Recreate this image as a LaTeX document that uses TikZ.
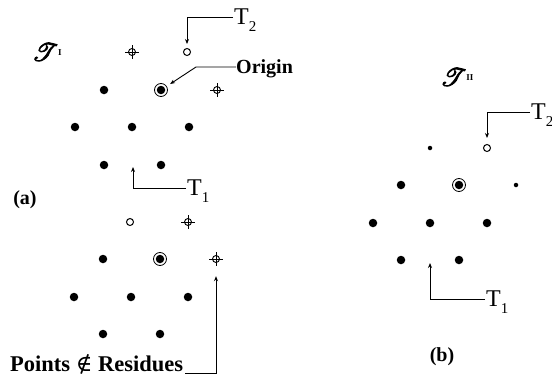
\documentclass[tikz,border=0pt]{standalone}
\usepackage{fontspec}
\setmainfont{Liberation Serif}
\newfontfamily\symfont{DejaVu Serif}
\usepackage{mathrsfs}
\usetikzlibrary{arrows.meta}

% T with a lowered index; the index is smashed so the node box is the T alone
\newcommand{\Tlab}[1]{T\smash{\raisebox{-7pt}{\fontsize{15}{15}\selectfont #1}}}
% heavier strokes for glyphs: fill and stroke the outlines
\newcommand{\heavy}[1]{\special{pdf:literal direct 2 Tr 0.9 w}#1\special{pdf:literal direct 0 Tr}}
% script T with a small raised roman tag
\newcommand{\scrlab}[1]{\heavy{$\mathscr{T}$}\raisebox{5pt}{\fontsize{9}{9}\selectfont\bfseries #1}}

\tikzset{
  dot/.style={circle, fill, inner sep=0pt, minimum size=8.5pt},
  smalldot/.style={circle, fill, inner sep=0pt, minimum size=4.5pt},
  hole/.style={circle, draw, line width=1pt, inner sep=0pt, minimum size=7pt},
  ring/.style={circle, draw, line width=0.8pt, inner sep=0pt, minimum size=13pt},
  crossmark/.style={circle, inner sep=0pt, minimum size=14pt,
    path picture={
      \draw[line width=0.9pt] (path picture bounding box.center) circle[radius=3.5pt];
      \draw[line width=0.9pt]
        (path picture bounding box.west) -- (path picture bounding box.east)
        (path picture bounding box.north) -- (path picture bounding box.south);
    }},
  conn/.style={line width=0.9pt, -{Stealth[length=5pt,width=4pt]}},
  tlabel/.style={anchor=west, inner sep=1pt, font=\fontsize{24}{24}\selectfont},
  blabel/.style={inner sep=0pt, font=\bfseries\fontsize{20}{20}\selectfont},
  scrtag/.style={inner sep=0pt, font=\fontsize{23}{23}\selectfont},
}

\begin{document}
\begin{tikzpicture}[x=1pt, y=-1pt]
\useasboundingbox (0,0) rectangle (552,383);

% ---------- panel (a), upper lattice ----------
\node[scrtag] (scrA) at (47,52) {\scrlab{I}};
\node[crossmark] (c1) at (132,52) {};
\node[hole] (h1) at (187,52) {};
\node[dot] (a1) at (104,90) {};
\node[ring] (o1) at (161,90) {};
\node[dot] (o1c) at (161,90) {};
\node[crossmark] (c2) at (217,90) {};
\node[dot] (a2) at (75,127) {};
\node[dot] (a3) at (132,127) {};
\node[dot] (a4) at (189,127) {};
\node[dot] (a5) at (104,165) {};
\node[dot] (a6) at (161,165) {};

\node[tlabel] (T2a) at (233,17) {\Tlab{2}};
\draw[conn, shorten >=4pt] (T2a.west) -| (h1);

\node[blabel, anchor=west, text depth=0pt, font=\bfseries\fontsize{20}{20}\selectfont] (orig) at (236,67) {Origin};
\coordinate (obend) at (196,67);
\draw[conn, shorten >=4pt] (orig.west) -- (obend) -- (o1);

\node[tlabel] (T1a) at (186,188) {\Tlab{1}};
\coordinate (t1a) at (133,167);
\draw[conn] (T1a.west) -| (t1a);

\node[blabel] (lbla) at (25,200) {(a)};

% ---------- panel (a), lower lattice ----------
\node[hole] (h2) at (130,222) {};
\node[crossmark] (c3) at (188,222) {};
\node[dot] (d1) at (103,259) {};
\node[ring] (o2) at (160,259) {};
\node[dot] (o2c) at (160,259) {};
\node[crossmark] (c4) at (216,259) {};
\node[dot] (d2) at (74,297) {};
\node[dot] (d3) at (131,297) {};
\node[dot] (d4) at (188,297) {};
\node[dot] (d5) at (103,334) {};
\node[dot] (d6) at (160,334) {};

\node[blabel, anchor=base west, font=\bfseries\fontsize{22.5}{22.5}\selectfont] (pts) at (10,371)
  {Points {\symfont\mdseries ∉} Residues};
\draw[conn, shorten >=10pt] ([shift={(2pt,-2pt)}]pts.base east) -| (c4);

% ---------- panel (b) ----------
\node[scrtag] (scrB) at (457,77) {\scrlab{II}};
\node[smalldot] (s1) at (430,148) {};
\node[hole] (h3) at (487,148) {};
\node[dot] (b1) at (401,185) {};
\node[ring] (o3) at (459,185) {};
\node[dot] (o3c) at (459,185) {};
\node[smalldot] (s2) at (516,185) {};
\node[dot] (b2) at (373,223) {};
\node[dot] (b3) at (430,223) {};
\node[dot] (b4) at (487,223) {};
\node[dot] (b5) at (401,260) {};
\node[dot] (b6) at (459,260) {};

\node[tlabel] (T2b) at (530,112) {\Tlab{2}};
\draw[conn, shorten >=6pt] (T2b.west) -| (h3);

\node[tlabel] (T1b) at (485,299) {\Tlab{1}};
\coordinate (t1b) at (430,263);
\draw[conn] (T1b.west) -| (t1b);

\node[blabel] (lblb) at (442,357) {(b)};
\end{tikzpicture}
\end{document}
